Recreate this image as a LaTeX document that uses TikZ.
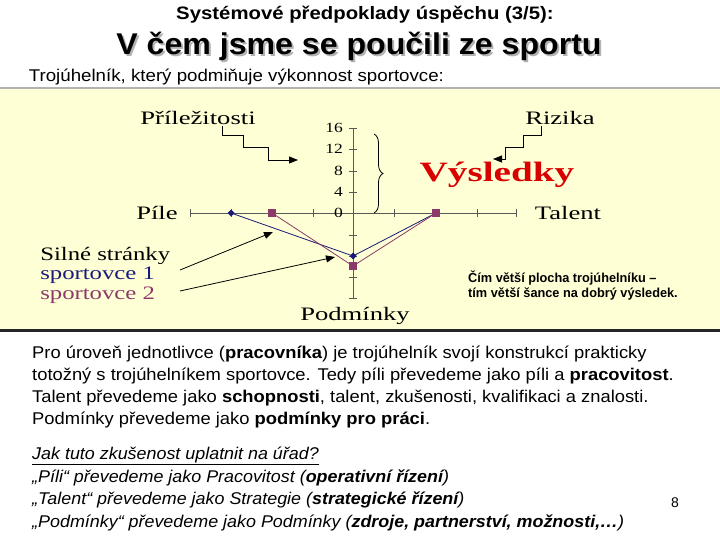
\documentclass[tikz,border=0pt]{standalone}
\usepackage{fontspec}
\setmainfont{Liberation Sans}
\newfontfamily\serifch{Liberation Serif}
\usetikzlibrary{arrows.meta,decorations.pathreplacing}
\definecolor{panel}{HTML}{FFFFD6}
\definecolor{s1}{HTML}{1A1A7A}
\definecolor{s2}{HTML}{8B3A6A}
\begin{document}
\begin{tikzpicture}[x=1pt,y=-1pt,
  ch/.style={font=\serifch\fontsize{19}{19}\selectfont,inner sep=0,xscale=1.4},
  tk/.style={font=\serifch\fontsize{14}{14}\selectfont,inner sep=0,anchor=east,xscale=1.25},
  bt/.style={font=\fontsize{17}{22}\selectfont,align=left,anchor=north west,inner sep=0,xscale=1.08},
  arr/.style={-{Triangle[length=9pt,width=7pt]},thick},
  ax/.style={gray!70!black,line width=0.6pt}]
\useasboundingbox (0,0) rectangle (720,540);
\fill[white] (0,0) rectangle (720,540);
% header
\node[font=\bfseries\fontsize{18}{18}\selectfont,xscale=1.13] (h1) at (365,15) {Systémové předpoklady úspěchu (3/5):};
\node[font=\bfseries\fontsize{30}{30}\selectfont,text=gray!60,xscale=1.07] at (361,48) {V čem jsme se poučili ze sportu};
\node[font=\bfseries\fontsize{30}{30}\selectfont,xscale=1.07] (h2) at (359,46) {V čem jsme se poučili ze sportu};
\node[font=\fontsize{17}{17}\selectfont,anchor=west,xscale=1.1] (h3) at (25,77) {Trojúhelník, který podmiňuje výkonnost sportovce:};
% panel
\fill[panel] (0,88) rectangle (720,330);
\draw[gray!60,line width=1.5pt] (0,88) -- (720,88);
\draw[black!85,line width=3pt] (0,330) -- (720,330);
% axes
\draw[ax] (190,213) -- (516,213);
\draw[ax] (353,128) -- (353,298);
\foreach \x in {190,231,272,313,394,436,477,516} \draw[ax] (\x,209) -- (\x,217);
\foreach \y in {128,149,171,192,235,256,277,298} \draw[ax] (349,\y) -- (357,\y);
\foreach \v/\y in {16/128,12/149,8/171,4/192,0/213} \node[tk] at (343,\y) {\v};
% data
\coordinate (b1) at (231,213); \coordinate (b2) at (353,256); \coordinate (b3) at (436,213);
\coordinate (m1) at (272,213); \coordinate (m2) at (353,266); \coordinate (m3) at (436,213);
\draw[s1,line width=0.8pt] (b1) -- (b2) -- (b3);
\draw[s2,line width=0.8pt] (m1) -- (m2) -- (m3);
\foreach \p in {b1,b2,b3} \fill[s1] (\p) +(-3.5,0) -- +(0,-3.5) -- +(3.5,0) -- +(0,3.5) -- cycle;
\foreach \p in {m1,m2,m3} \fill[s2] (\p) +(-4,-4) rectangle +(4,4);
% labels
\node[ch] (pr) at (198,118) {Příležitosti};
\node[ch] (ri) at (560,118) {Rizika};
\node[ch] (pi) at (157,213) {Píle};
\node[ch] (ta) at (568,213) {Talent};
\node[ch] (po) at (355,316) {Podmínky};
\node[font=\serifch\bfseries\fontsize{28}{28}\selectfont,text=red!85!black,inner sep=0,xscale=1.4] (vy) at (497,175) {Výsledky};
\draw[decorate,decoration={brace,amplitude=9pt},line width=0.8pt] (374,134) -- (374,213);
\node[ch,anchor=west,xscale=0.93] (ss) at (40,256) {Silné stránky};
\node[ch,anchor=west,text=s1,xscale=0.93] (sp1) at (40,275) {sportovce 1};
\node[ch,anchor=west,text=s2,xscale=0.93] (sp2) at (40,295) {sportovce 2};
% arrows
\coordinate (pa) at (298,160); \coordinate (ra) at (493,159);
\draw[arr] (222,126) -- (222,135) -- (243,135) -- (243,147) -- (268,147) -- (268,160) -- (pa);
\draw[arr] (541,126) -- (541,135) -- (523,135) -- (523,147) -- (505,147) -- (505,159) -- (ra);
\coordinate (t1) at (273,232); \coordinate (t2) at (335,257);
\draw[arr] (180,270) -- (t1);
\draw[arr] (180,291) -- (t2);
\node[font=\bfseries\fontsize{13}{15}\selectfont,align=left,anchor=west,inner sep=0,xscale=0.98] (nt) at (468,286) {Čím větší plocha trojúhelníku –\\tím větší šance na dobrý výsledek.};
% body
\node[bt] (b) at (32,346) {Pro úroveň jednotlivce (\textbf{pracovníka}) je trojúhelník svojí konstrukcí prakticky\\totožný s trojúhelníkem sportovce. Tedy píli převedeme jako píli a \textbf{pracovitost}.\\Talent převedeme jako \textbf{schopnosti}, talent, zkušenosti, kvalifikaci a znalosti.\\Podmínky převedeme jako \textbf{podmínky pro práci}.};
\node[bt,font=\itshape\fontsize{17}{22.5}\selectfont,xscale=0.975] (c) at (32,447) {\underline{Jak tuto zkušenost uplatnit na úřad?}\\„Píli“ převedeme jako Pracovitost (\textbf{operativní řízení})\\„Talent“ převedeme jako Strategie (\textbf{strategické řízení})\\„Podmínky“ převedeme jako Podmínky (\textbf{zdroje, partnerství, možnosti,…})};
\node[font=\fontsize{14}{14}\selectfont] (pg) at (675,503) {8};
\end{tikzpicture}
\end{document}
